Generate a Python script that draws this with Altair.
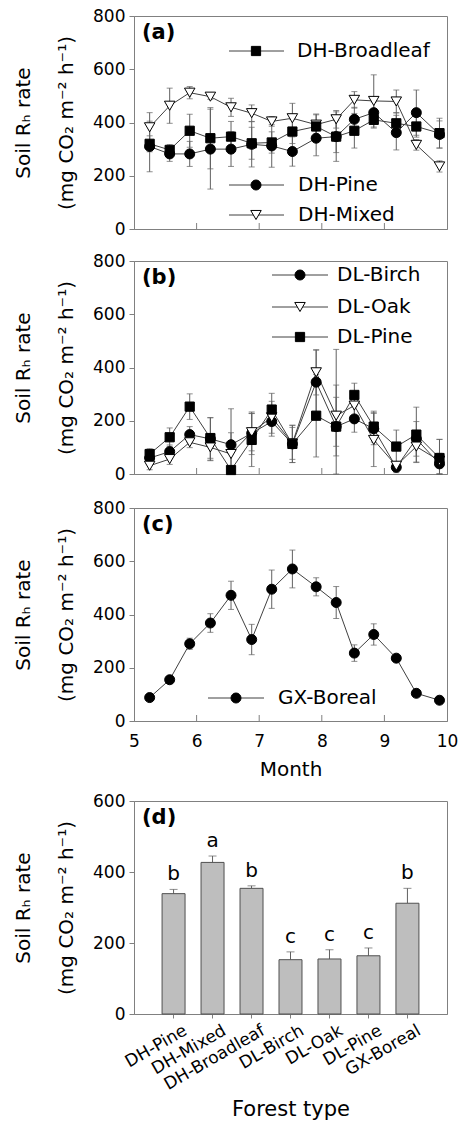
import altair as alt
import pandas as pd

# ---------------- data ----------------
DATES = [5.25, 5.57, 5.89, 6.22, 6.55, 6.88, 7.20, 7.53, 7.91, 8.23, 8.52, 8.83, 9.19, 9.51, 9.88]

DH_PINE = [310, 282, 282, 300, 300, 318, 312, 291, 341, 347, 412, 437, 362, 437, 355]
DH_PINE_SE = [95, 28, 47, 150, 65, 85, 80, 55, 66, 93, 45, 40, 65, 85, 51]
DH_BROAD = [320, 297, 369, 341, 347, 322, 325, 366, 385, 347, 369, 410, 397, 385, 360]
DH_BROAD_SE = [30, 20, 62, 115, 57, 60, 40, 45, 44, 60, 65, 31, 40, 40, 56]
DH_MIXED = [382, 463, 512, 497, 457, 435, 404, 416, 392, 412, 485, 481, 479, 316, 235]
DH_MIXED_SE = [55, 66, 23, 10, 34, 31, 18, 56, 40, 33, 31, 98, 43, 20, 21]

DL_BIRCH = [60, 84, 148, 132, 110, 153, 197, 113, 345, 178, 207, 170, 25, 132, 38]
DL_BIRCH_SE = [20, 25, 30, 80, 135, 80, 55, 70, 120, 110, 50, 60, 20, 65, 40]
DL_OAK = [31, 56, 119, 100, 75, 157, 213, 115, 382, 219, 257, 128, 31, 103, 50]
DL_OAK_SE = [15, 20, 20, 50, 80, 70, 60, 60, 85, 115, 40, 100, 15, 60, 80]
DL_PINE = [75, 138, 253, 135, 15, 128, 242, 113, 219, 178, 297, 178, 103, 148, 60]
DL_PINE_SE = [20, 35, 48, 76, 10, 100, 61, 70, 155, 290, 44, 58, 62, 103, 70]

GX_BOREAL = [88, 155, 290, 368, 472, 306, 495, 571, 504, 445, 255, 325, 236, 104, 78]
GX_BOREAL_SE = [0, 0, 21, 35, 53, 57, 72, 71, 34, 60, 31, 40, 0, 0, 0]

FORESTS = ["DH-Pine", "DH-Mixed", "DH-Broadleaf", "DL-Birch", "DL-Oak", "DL-Pine", "GX-Boreal"]
MEANS = [339, 427, 354, 153, 155, 164, 312]
MEANS_SE = [12, 18, 7, 22, 26, 22, 42]
LETTERS = ["b", "a", "b", "c", "c", "c", "b"]

MONTH_TICKS = [5, 6, 7, 8, 9, 10]
INNER_TICKS = [6, 7, 8, 9]
Y_TICKS_TS = [0, 200, 400, 600, 800]
Y_TICKS_BAR = [0, 200, 400, 600]

# ---------------- style ----------------
FONT = "DejaVu Sans"
GRAY = "#808080"
ERR = "#606060"
LINE = "#404040"
W, H = 313, 213
YTITLE = ["Soil Rₕ rate", "(mg CO₂ m⁻² h⁻¹)"]
ONE = pd.DataFrame({"k": [0]})

SHAPES = {
    "circle": dict(shape="circle", fill="black", size=100),
    "square": dict(shape="square", fill="black", size=85),
    "tri": dict(shape="triangle-down", fill="white", size=110),
}


def y_axis(values):
    return alt.Axis(
        values=values, title=YTITLE, titlePadding=16, titleLineHeight=43,
        titleFontSize=20, titleFont=FONT, titleFontWeight="normal", titleColor="black",
        labelFont=FONT, labelFontSize=17, labelColor="black", labelPadding=4,
        labelFlush=False, tickSize=5, tickColor=GRAY, domainColor=GRAY, grid=False,
    )


def x_axis(show_labels):
    if show_labels:
        return alt.Axis(
            values=MONTH_TICKS, title="Month", titleFont=FONT, titleFontSize=20,
            titleFontWeight="normal", titleColor="black", titlePadding=10,
            labelFont=FONT, labelFontSize=17, labelColor="black", labelPadding=12,
            labelFlush=False, ticks=False, domainColor=GRAY, grid=False,
        )
    return alt.Axis(values=MONTH_TICKS, labels=False, ticks=False, title=None,
                    domainColor=GRAY, grid=False)


def ts_panel(series, label, legend, show_x):
    xs = alt.Scale(domain=[5, 10], nice=False, zero=False)
    ys = alt.Scale(domain=[0, 800], nice=False, clamp=True)
    X = alt.X("month:Q", scale=xs, axis=x_axis(show_x))
    yax = y_axis(Y_TICKS_TS)
    errs, lines, pts = [], [], []
    for vals, ses, style in series:
        df = pd.DataFrame({
            "month": DATES, "value": vals,
            "lo": [v - s for v, s in zip(vals, ses)],
            "hi": [v + s for v, s in zip(vals, ses)],
        })
        base = alt.Chart(df)
        errs.append(base.mark_rule(color=ERR, strokeWidth=1).encode(
            x=X, y=alt.Y("lo:Q", scale=ys, axis=yax), y2="hi:Q"))
        errs.append(base.mark_tick(orient="horizontal", size=6, thickness=1, color=ERR).encode(
            x=X, y=alt.Y("hi:Q", scale=ys, axis=yax)))
        errs.append(base.mark_tick(orient="horizontal", size=6, thickness=1, color=ERR).encode(
            x=X, y=alt.Y("lo:Q", scale=ys, axis=yax)))
        lines.append(base.mark_line(color=LINE, strokeWidth=1).encode(
            x=X, y=alt.Y("value:Q", scale=ys, axis=yax)))
        st = SHAPES[style]
        pts.append(base.mark_point(shape=st["shape"], filled=True, fill=st["fill"], stroke="black",
                                   strokeWidth=1, size=st["size"], opacity=1).encode(
            x=X, y=alt.Y("value:Q", scale=ys, axis=yax)))
    ticks = alt.Chart(pd.DataFrame({"m": INNER_TICKS})).mark_rule(color=GRAY, strokeWidth=1).encode(
        x=alt.X("m:Q", scale=xs, axis=x_axis(show_x)), y=alt.value(H), y2=alt.value(H - 6))
    deco = [alt.Chart(ONE).mark_text(font=FONT, fontSize=21, fontWeight="bold", align="left",
                                     baseline="middle", color="black").encode(
        x=alt.value(8), y=alt.value(17), text=alt.value(label))]
    for name, style, x0, x1, xm, xt, y in legend:
        st = SHAPES[style]
        deco.append(alt.Chart(ONE).mark_rule(color=LINE, strokeWidth=1).encode(
            x=alt.value(x0), x2=alt.value(x1), y=alt.value(y)))
        deco.append(alt.Chart(ONE).mark_point(shape=st["shape"], filled=True, fill=st["fill"],
                                              stroke="black", strokeWidth=1, size=st["size"],
                                              opacity=1).encode(x=alt.value(xm), y=alt.value(y)))
        deco.append(alt.Chart(ONE).mark_text(font=FONT, fontSize=20, align="left", baseline="middle",
                                             color="black").encode(
            x=alt.value(xt), y=alt.value(y), text=alt.value(name)))
    return alt.layer(*errs, *lines, *pts, ticks, *deco).properties(width=W, height=H)


panel_a = ts_panel(
    [(DH_PINE, DH_PINE_SE, "circle"), (DH_MIXED, DH_MIXED_SE, "tri"), (DH_BROAD, DH_BROAD_SE, "square")],
    "(a)",
    [("DH-Broadleaf", "square", 95, 150, 122, 163, 35),
     ("DH-Pine", "circle", 95, 150, 122, 164, 169),
     ("DH-Mixed", "tri", 95, 150, 122, 164, 199)],
    False,
)
panel_b = ts_panel(
    [(DL_BIRCH, DL_BIRCH_SE, "circle"), (DL_OAK, DL_OAK_SE, "tri"), (DL_PINE, DL_PINE_SE, "square")],
    "(b)",
    [("DL-Birch", "circle", 138, 194, 166, 203, 14),
     ("DL-Oak", "tri", 138, 194, 166, 203, 46),
     ("DL-Pine", "square", 138, 194, 166, 203, 76)],
    False,
)
panel_c = ts_panel(
    [(GX_BOREAL, GX_BOREAL_SE, "circle")],
    "(c)",
    [("GX-Boreal", "circle", 74, 130, 102, 144, 190)],
    True,
)

# ---------------- bar panel ----------------
bar_df = pd.DataFrame({
    "forest": FORESTS, "mean": MEANS,
    "hi": [m + s for m, s in zip(MEANS, MEANS_SE)], "letter": LETTERS,
})
bys = alt.Scale(domain=[0, 600], nice=False)
bax = y_axis(Y_TICKS_BAR)
BX = alt.X("forest:N", sort=FORESTS, scale=alt.Scale(paddingInner=0.41, paddingOuter=0.72),
           axis=alt.Axis(title="Forest type", titleFont=FONT, titleFontSize=21, titleFontWeight="normal",
                         titleColor="black", titlePadding=6, labelFont=FONT, labelFontSize=17,
                         labelColor="black", labelAngle=330, labelAlign="right", labelBaseline="top",
                         labelPadding=4, labelOffset=8, tickSize=4, tickColor=GRAY,
                         domainColor=GRAY, grid=False))
bb = alt.Chart(bar_df)
bars = bb.mark_bar(color="#bebebe", stroke="#505050", strokeWidth=1).encode(
    x=BX, y=alt.Y("mean:Q", scale=bys, axis=bax))
berr = bb.mark_rule(color=ERR, strokeWidth=1).encode(x=BX, y=alt.Y("mean:Q", scale=bys, axis=bax), y2="hi:Q")
bcap = bb.mark_tick(orient="horizontal", size=8, thickness=1, color=ERR).encode(
    x=BX, y=alt.Y("hi:Q", scale=bys, axis=bax))
blet = bb.mark_text(font=FONT, fontSize=20, baseline="middle", dy=-15, color="black").encode(
    x=BX, y=alt.Y("hi:Q", scale=bys, axis=bax), text="letter:N")
blab = alt.Chart(ONE).mark_text(font=FONT, fontSize=21, fontWeight="bold", align="left",
                                baseline="middle", color="black").encode(
    x=alt.value(8), y=alt.value(17), text=alt.value("(d)"))
panel_d = alt.layer(berr, bcap, bars, blet, blab).properties(width=W, height=H)

chart = alt.vconcat(
    alt.vconcat(panel_a, panel_b, spacing=13),
    alt.vconcat(panel_c, panel_d, spacing=11),
    spacing=15,
).properties(
    padding={"top": -2, "left": 5, "right": 0, "bottom": 0}
).configure_view(stroke=GRAY, strokeWidth=1)

chart.save("out.html", embed_options={"renderer": "svg", "actions": False})
